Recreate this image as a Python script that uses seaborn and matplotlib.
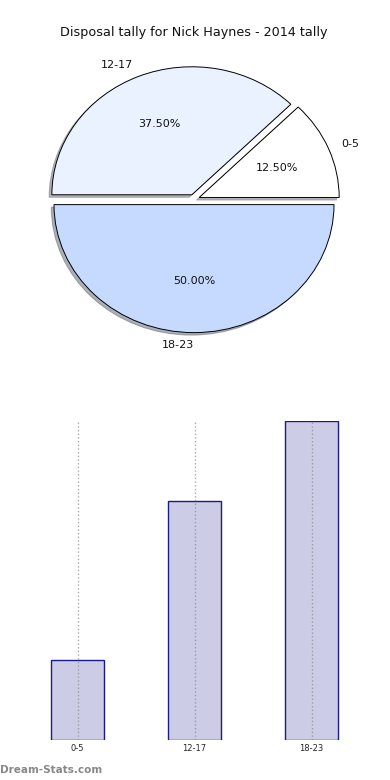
import matplotlib
matplotlib.use("Agg")
import matplotlib.pyplot as plt
import seaborn as sns
import pandas as pd

categories = ["0-5", "12-17", "18-23"]
counts = [1, 3, 4]
pie_colors = ["#ffffff", "#eaf1ff", "#c6d9ff"]
title = "Disposal tally for Nick Haynes - 2014 tally"

sns.set_theme(style="white")
plt.rcParams["font.family"] = ["DejaVu Sans"]

fig = plt.figure(figsize=(3.9, 7.8), dpi=100)
W, H = 390, 780

ax1 = fig.add_axes([19 / W, 1 - 359.5 / H, 350 / W, 320 / H])
wedges, texts, autotexts = ax1.pie(
    counts, labels=categories, colors=pie_colors, explode=[0.04] * 3,
    autopct="%1.2f%%", shadow=dict(ox=-0.014, oy=-0.014, shade=0.55),
    startangle=0,
    wedgeprops=dict(edgecolor="black", linewidth=0.7),
    textprops=dict(fontsize=8, color="#111111"))
texts[2].set_ha("right")
ax1.set_aspect("auto")
ax1.set_title(title, fontsize=9.2, pad=2.5, color="#111111")

ax2 = fig.add_axes([19 / W, 1 - 740 / H, 351 / W, 319 / H])
df = pd.DataFrame({"cat": categories, "val": counts})
sns.barplot(data=df, x="cat", y="val", ax=ax2, width=0.45,
            color="#ccccE6", edgecolor="#1a1a8c", linewidth=1.0, saturation=1)
ax2.set_ylim(0, 4)
ax2.set_xlim(-0.5, 2.5)
ax2.set_xlabel("")
ax2.set_ylabel("")
ax2.set_yticks([])
ax2.tick_params(axis="x", length=0, labelsize=6, pad=3)
for s in ax2.spines.values():
    s.set_visible(False)
ax2.set_axisbelow(False)
ax2.grid(axis="x", linestyle=":", color="#888888", alpha=0.7, linewidth=1.0)

fig.text(0.0, 1 - 770 / H, "Dream-Stats.com", fontsize=7.5, color="#888888",
         fontweight="bold", va="center", ha="left")

fig.savefig("out.png", dpi=100)
